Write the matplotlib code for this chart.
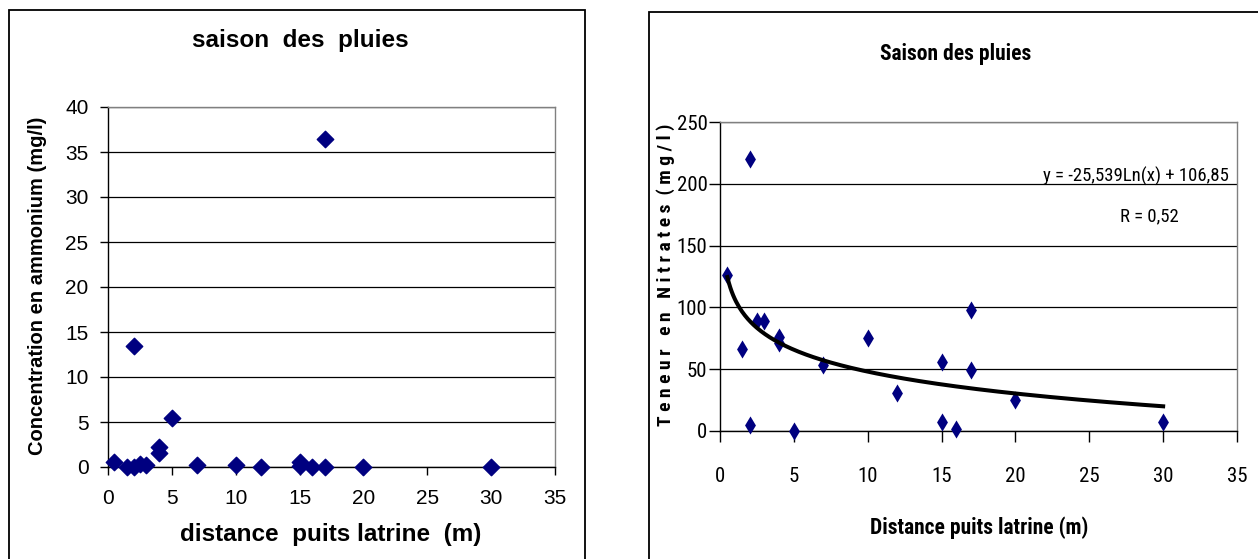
import numpy as np
import matplotlib
matplotlib.use("Agg")
import matplotlib.pyplot as plt
from matplotlib.patches import Rectangle
from matplotlib import font_manager as fm

# ---- data: left chart (ammonium) ----
amm_x = [0.5, 1.5, 2, 2, 2.5, 3, 4, 4, 5, 7, 10, 12, 15, 15, 16, 17, 17, 20, 30]
amm_y = [0.6, 0.0, 0.0, 13.5, 0.3, 0.2, 1.6, 2.2, 5.5, 0.2, 0.2, 0.0, 0.6, 0.1, 0.0, 0.0, 36.4, 0.0, 0.0]

# ---- data: right chart (nitrates) ----
nit_x = [0.5, 1.5, 2, 2, 2.5, 3, 4, 4, 5, 7, 10, 12, 15, 15, 16, 17, 17, 20, 30]
nit_y = [126, 66, 220, 5, 89, 89, 76, 71, 0, 53, 75, 31, 56, 7, 1.5, 98, 49, 25, 7]
trend_a = -25.539
trend_b = 106.85

x_ticks = [0, 5, 10, 15, 20, 25, 30, 35]
amm_ticks = [0, 5, 10, 15, 20, 25, 30, 35, 40]
nit_ticks = [0, 50, 100, 150, 200, 250]


def find_narrow(bold):
    """Pick an installed narrow/condensed sans font, if any."""
    prefs = ["liberation sans narrow", "arial narrow", "roboto condensed",
             "open sans condensed", "noto sans condensed", "dejavu sans condensed"]
    cands = []
    for f in fm.fontManager.ttflist:
        n = f.name.lower()
        fn = f.fname.lower()
        st = str(f.stretch).lower()
        if ("narrow" in n or "condensed" in n or "narrow" in fn or "condensed" in fn
                or "condensed" in st):
            if "italic" in fn or f.style != "normal":
                continue
            try:
                w = int(f.weight)
            except Exception:
                w = fm.weight_dict.get(str(f.weight), 400)
            if "extra" in fn or "ultra" in fn:
                continue
            rank = len(prefs)
            for i, p in enumerate(prefs):
                if p in n or p.replace(" ", "") in fn.replace("-", "").replace("_", ""):
                    rank = i
                    break
            target = 700 if bold else 400
            cands.append((rank, abs(w - target), f.fname))
    if not cands:
        return None
    cands.sort()
    return cands[0][2]


narrow_reg = find_narrow(False)
narrow_bold = find_narrow(True)


def nfont(size, bold=False):
    path = narrow_bold if bold else narrow_reg
    if path:
        return fm.FontProperties(fname=path, size=size)
    return fm.FontProperties(family="Liberation Sans", size=size * 0.8,
                             weight="bold" if bold else "normal")


NAVY = "#000080"
W, H = 1258, 559
fig = plt.figure(figsize=(W / 100, H / 100), dpi=100)
fig.patch.set_facecolor("white")


def fx(px):
    return px / W


def fy(py):
    return (H - py) / H


# panel borders
fig.patches.append(Rectangle((fx(8.5), -0.1), fx(584.5 - 8.5), fy(10) + 0.1,
                             transform=fig.transFigure, fill=False, ec="black", lw=1.3))
fig.patches.append(Rectangle((fx(648.5), -0.1), 1.0, fy(12) + 0.1,
                             transform=fig.transFigure, fill=False, ec="black", lw=1.3))


def style_axes(ax):
    ax.spines["top"].set_color("#808080")
    ax.spines["right"].set_color("#808080")
    ax.spines["left"].set_color("black")
    ax.spines["bottom"].set_color("black")
    for s in ax.spines.values():
        s.set_linewidth(1.0)
    ax.tick_params(direction="out", length=6, width=1, colors="black")
    ax.set_axisbelow(True)
    ax.grid(axis="y", color="black", lw=0.9)
    ax.grid(axis="x", visible=False)


# ---------------- left chart ----------------
LF = "Liberation Sans"
ax1 = fig.add_axes([fx(108), fy(467), fx(555 - 108), (467 - 107) / H])
ax1.scatter(amm_x, amm_y, marker="D", s=70, color=NAVY, zorder=3, clip_on=False)
ax1.set_xlim(0, 35)
ax1.set_ylim(0, 40)
ax1.set_xticks(x_ticks)
ax1.set_yticks(amm_ticks)
style_axes(ax1)
for lab in ax1.get_xticklabels() + ax1.get_yticklabels():
    lab.set_fontfamily(LF)
    lab.set_fontsize(15)
ax1.tick_params(axis="x", pad=10)
ax1.tick_params(axis="y", pad=8)
fig.text(fx(300), fy(41), "saison  des  pluies", family=LF, weight="bold",
         fontsize=17.5, ha="center", va="center")
fig.text(fx(331), fy(534), "distance  puits latrine  (m)", family=LF, weight="bold",
         fontsize=17.5, ha="center", va="center")
fig.text(fx(38), fy(286), "Concentration en ammonium (mg/l)", family=LF, weight="bold",
         fontsize=14.5, ha="center", va="center", rotation=90)

# ---------------- right chart ----------------
ax2 = fig.add_axes([fx(720), fy(431), fx(1237 - 720), (431 - 122) / H])
ax2.scatter(nit_x, nit_y, marker="d", s=85, color=NAVY, zorder=3, clip_on=False,
            linewidths=0)
xs = np.linspace(min(nit_x), max(nit_x), 300)
ax2.plot(xs, trend_a * np.log(xs) + trend_b, color="black", lw=2.9, zorder=4)
ax2.set_xlim(0, 35)
ax2.set_ylim(0, 250)
ax2.set_xticks(x_ticks)
ax2.set_yticks(nit_ticks)
style_axes(ax2)
ax2.tick_params(axis="y", length=8, pad=1)
ax2.tick_params(axis="x", length=8, pad=18)
tick_fp = nfont(15)
for lab in ax2.get_xticklabels() + ax2.get_yticklabels():
    lab.set_fontproperties(tick_fp)
fig.text(fx(956), fy(54), "Saison des pluies", fontproperties=nfont(15.5, True),
         ha="center", va="center")
fig.text(fx(979), fy(528), "Distance puits latrine (m)", fontproperties=nfont(15.5, True),
         ha="center", va="center")
fig.text(fx(666), fy(275), "T e n e u r   e n   N i t r a t e s  ( m g / l )",
         fontproperties=nfont(14, True), ha="center", va="center", rotation=90)
ax2.text(34.45, 206.3, "y = -25,539Ln(x) + 106,85", fontproperties=nfont(13.5),
         ha="right", va="center")
ax2.text(29.1, 174, "R = 0,52", fontproperties=nfont(13.5), ha="center", va="center")

fig.savefig("out.png", dpi=100, facecolor="white")
